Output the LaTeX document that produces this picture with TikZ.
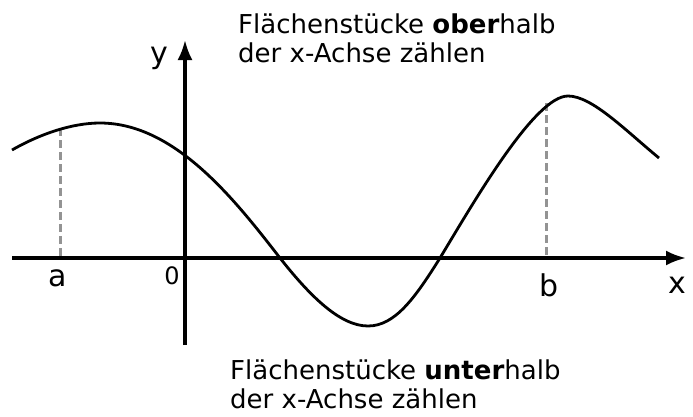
\documentclass[tikz,border=0pt]{standalone}
\usepackage{fontspec}
\setmainfont{DejaVu Sans}
\usetikzlibrary{arrows.meta}

\begin{document}
\begin{tikzpicture}[
    x=1pt, y=-1pt,
    every node/.style={font=\fontsize{26}{29}\selectfont},
    axis/.style={line width=3.2pt, -{Latex[length=20pt,width=15pt]}},
    graph/.style={line width=2.8pt},
    marker/.style={line width=3pt, dash pattern=on 8pt off 4pt, gray!85},
    axlabel/.style={font=\fontsize{30}{32}\selectfont},
    note/.style={align=left, anchor=west, inner sep=0pt}
]
\useasboundingbox (0,0) rectangle (693,416);

% ============== Achsen ==============
\coordinate (xl) at (12,258);
\coordinate (xr) at (686,258);
\coordinate (yb) at (185,345);
\coordinate (yt) at (185,40);
\draw[axis] (xl) -- (xr);
\draw[axis] (yb) -- (yt);

% ============== Grenzen a und b ==============
\coordinate (pa) at (60,128);
\coordinate (pb) at (546,103);
\draw[marker] (pa) -- (pa |- xl);
\draw[marker] (pb) -- (pb |- xl);

% ============== Funktion ==============
\draw[graph] (12,150) .. controls (40,134) and (72,123) .. (100,123)
    .. controls (175,123) and (235,200) .. (280,258)
    .. controls (310,296) and (340,326) .. (368,326)
    .. controls (395,326) and (415,298) .. (440,258)
    .. controls (475,200) and (535,96) .. (568,96)
    .. controls (592,96) and (625,130) .. (659,158);

% ============== Beschriftung ==============
\node[axlabel] (la) at (58,278) {a};
\node[axlabel] (lb) at (549,285) {b};
\node[axlabel] (lx) at (677,285) {x};
\node[axlabel] (ly) at (159,58) {y};
\node[font=\fontsize{24}{26}\selectfont] (l0) at (172,276) {0};

\node[note] (top) at (238,38) {Flächenstücke \textbf{ober}halb\\der x-Achse zählen};
\node[note] (bottom) at (230,384) {Flächenstücke \textbf{unter}halb\\der x-Achse zählen};
\end{tikzpicture}
\end{document}
